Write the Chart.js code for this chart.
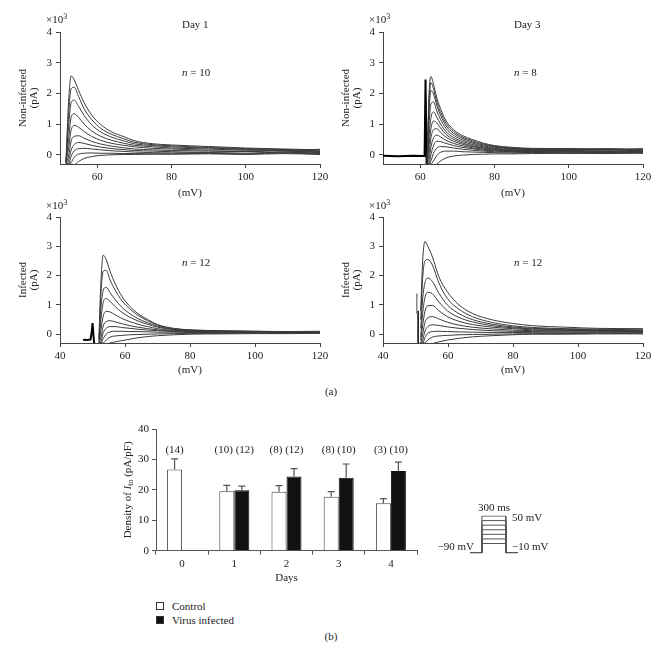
<!DOCTYPE html>
<html>
<head>
<meta charset="utf-8">
<script src="https://cdn.jsdelivr.net/npm/chart.js@4.4.0/dist/chart.umd.min.js"></script>
<style>
  body { margin: 0; background: #fff; }
  #fig { position: relative; width: 664px; height: 647px; font-family: 'Liberation Serif', serif; font-size: 11px; color: #222; }
  #fig canvas { position: absolute; }
  .lbl { position: absolute; white-space: nowrap; line-height: 1; }
  .c { transform: translate(-50%, -50%); }
  .l { transform: translate(0, -50%); }
  .r { transform: translate(-100%, -50%); }
  .sup { font-size: 8px; position: relative; top: -4px; }
  .sq { position: absolute; width: 8px; height: 8px; border: 1px solid #333; box-sizing: border-box; }
</style>
</head>
<body>
<div id="fig">
  <canvas id="c1" width="332" height="200" style="left:0;top:0"></canvas>
  <canvas id="c2" width="332" height="200" style="left:323px;top:0"></canvas>
  <canvas id="c3" width="332" height="197" style="left:0;top:180px"></canvas>
  <canvas id="c4" width="332" height="197" style="left:323px;top:180px"></canvas>
  <canvas id="bars" width="330" height="190" style="left:100px;top:400px"></canvas>
  <canvas id="proto" width="60" height="50" style="left:465px;top:510px"></canvas>

  <div class="lbl l" style="left:46px;top:19px">×10<span class="sup">3</span></div>
  <div class="lbl l" style="left:369px;top:19px">×10<span class="sup">3</span></div>
  <div class="lbl l" style="left:46px;top:205px">×10<span class="sup">3</span></div>
  <div class="lbl l" style="left:369px;top:205px">×10<span class="sup">3</span></div>

  <div class="lbl l" style="left:182px;top:24px">Day 1</div>
  <div class="lbl l" style="left:514px;top:24px">Day 3</div>
  <div class="lbl l" style="left:182px;top:72px"><i>n</i> = 10</div>
  <div class="lbl l" style="left:514px;top:72px"><i>n</i> = 8</div>
  <div class="lbl l" style="left:182px;top:262px"><i>n</i> = 12</div>
  <div class="lbl l" style="left:514px;top:262px"><i>n</i> = 12</div>

  <div class="lbl c" style="left:331px;top:391px">(a)</div>
  <div class="lbl c" style="left:331px;top:636px">(b)</div>

  <div class="lbl c" style="left:494px;top:507px">300 ms</div>
  <div class="lbl l" style="left:512px;top:517px">50 mV</div>
  <div class="lbl r" style="left:474px;top:546px">−90 mV</div>
  <div class="lbl l" style="left:512px;top:546px">−10 mV</div>

  <div class="sq" style="left:156px;top:602px;background:#fff"></div>
  <div class="lbl l" style="left:172px;top:606px">Control</div>
  <div class="sq" style="left:156px;top:616px;background:#111"></div>
  <div class="lbl l" style="left:172px;top:620px">Virus infected</div>
</div>

<script>
/* ---- datos de las corrientes (y en x10^3 pA) ---- */
const yTicks = [0, 1, 2, 3, 4];
const xTicksTop = [60, 80, 100, 120];
const xTicksBottom = [40, 60, 80, 100, 120];

/* Day 1, non-infected */
const d1NonX = [51.6, 52.3, 53, 53.8, 55, 56.5, 58.5, 61, 64, 67, 70, 75, 80, 90, 100, 110, 120];
const d1NonTraces = [
  [-0.25, 1.7, 2.57, 2.45, 2.1, 1.7, 1.3, 0.98, 0.74, 0.6, 0.46, 0.36, 0.32, 0.27, 0.22, 0.19, 0.16],
  [-0.25, 1.3, 2.15, 2.2, 1.9, 1.5, 1.15, 0.86, 0.66, 0.53, 0.41, 0.33, 0.29, 0.24, 0.2, 0.17, 0.13],
  [-0.25, 0.9, 1.7, 1.78, 1.58, 1.28, 0.98, 0.74, 0.57, 0.46, 0.36, 0.3, 0.26, 0.22, 0.18, 0.14, 0.18],
  [-0.25, 0.5, 1.22, 1.34, 1.22, 1.0, 0.78, 0.6, 0.47, 0.38, 0.31, 0.26, 0.22, 0.19, 0.15, 0.17, 0.11],
  [-0.25, 0.2, 0.8, 0.96, 0.9, 0.76, 0.6, 0.47, 0.37, 0.31, 0.26, 0.21, 0.19, 0.15, 0.16, 0.12, 0.09],
  [-0.28, -0.05, 0.45, 0.6, 0.62, 0.54, 0.44, 0.35, 0.28, 0.23, 0.19, 0.16, 0.14, 0.12, 0.1, 0.13, 0.07],
  [-0.3, -0.2, 0.15, 0.33, 0.4, 0.37, 0.31, 0.25, 0.2, 0.17, 0.14, 0.12, 0.1, 0.08, 0.11, 0.06, 0.1],
  [-0.3, -0.3, -0.05, 0.12, 0.2, 0.21, 0.19, 0.16, 0.13, 0.11, 0.09, 0.07, 0.06, 0.07, 0.05, 0.09, 0.04],
  [-0.3, -0.3, -0.25, -0.08, 0.02, 0.05, 0.06, 0.05, 0.05, 0.04, 0.04, 0.03, 0.03, 0.05, 0.03, 0.06, 0.02],
  [-0.3, -0.3, -0.3, -0.32, -0.22, -0.12, -0.06, -0.02, 0.0, 0.01, 0.01, 0.02, 0.02, 0.03, 0.01, 0.04, 0.01]
];

/* Day 3, non-infected */
const d3NonX = [61.9, 62.4, 62.9, 63.6, 64.5, 65.5, 67, 69, 71.5, 74, 77, 80, 85, 90, 100, 110, 120];
const d3NonTraces = [
  [0.0, 2.0, 2.55, 2.3, 1.85, 1.5, 1.1, 0.82, 0.62, 0.5, 0.38, 0.3, 0.24, 0.21, 0.2, 0.19, 0.18],
  [-0.1, 1.7, 2.35, 2.15, 1.72, 1.38, 1.02, 0.76, 0.57, 0.46, 0.35, 0.28, 0.22, 0.2, 0.19, 0.17, 0.2],
  [-0.15, 1.4, 2.1, 1.98, 1.6, 1.28, 0.94, 0.7, 0.53, 0.42, 0.32, 0.26, 0.21, 0.19, 0.17, 0.2, 0.15],
  [-0.2, 1.0, 1.65, 1.72, 1.42, 1.15, 0.85, 0.63, 0.48, 0.38, 0.29, 0.24, 0.19, 0.17, 0.19, 0.15, 0.16],
  [-0.25, 0.6, 1.2, 1.4, 1.22, 1.0, 0.75, 0.56, 0.43, 0.34, 0.26, 0.21, 0.17, 0.16, 0.14, 0.17, 0.12],
  [-0.3, 0.3, 0.85, 1.1, 1.04, 0.87, 0.66, 0.5, 0.38, 0.3, 0.23, 0.19, 0.15, 0.13, 0.15, 0.11, 0.14],
  [-0.3, 0.05, 0.55, 0.82, 0.85, 0.73, 0.57, 0.44, 0.34, 0.27, 0.21, 0.17, 0.13, 0.14, 0.11, 0.13, 0.09],
  [-0.3, -0.15, 0.25, 0.55, 0.64, 0.58, 0.47, 0.37, 0.29, 0.23, 0.18, 0.15, 0.12, 0.1, 0.12, 0.08, 0.11],
  [-0.3, -0.3, 0.0, 0.3, 0.44, 0.43, 0.37, 0.3, 0.24, 0.2, 0.15, 0.13, 0.1, 0.11, 0.08, 0.1, 0.07],
  [-0.3, -0.3, -0.2, 0.05, 0.22, 0.27, 0.26, 0.22, 0.18, 0.15, 0.12, 0.1, 0.09, 0.07, 0.09, 0.06, 0.08],
  [-0.3, -0.3, -0.3, -0.2, -0.02, 0.08, 0.12, 0.12, 0.1, 0.09, 0.08, 0.07, 0.06, 0.08, 0.05, 0.07, 0.05],
  [-0.3, -0.3, -0.35, -0.35, -0.3, -0.2, -0.1, -0.04, -0.01, 0.01, 0.02, 0.03, 0.03, 0.04, 0.05, 0.04, 0.06]
];
const d3NonArtX = [50, 54, 58, 61.2, 61.45, 61.75, 62.0];
const d3NonArtY = [-0.03, -0.05, -0.03, -0.04, 2.45, -0.35, -0.35];

/* Day 1, infected */
const d1InfX = [52.0, 52.6, 53.3, 54.2, 55.4, 57, 59, 61.5, 64, 67, 70, 75, 80, 90, 100, 110, 120];
const d1InfTraces = [
  [-0.1, 1.8, 2.7, 2.55, 2.15, 1.72, 1.3, 0.95, 0.7, 0.5, 0.33, 0.2, 0.15, 0.12, 0.1, 0.09, 0.1],
  [-0.15, 1.4, 2.15, 2.18, 1.85, 1.5, 1.15, 0.86, 0.64, 0.46, 0.31, 0.19, 0.14, 0.11, 0.1, 0.08, 0.07],
  [-0.2, 0.9, 1.5, 1.6, 1.42, 1.18, 0.92, 0.7, 0.53, 0.39, 0.27, 0.17, 0.13, 0.1, 0.09, 0.07, 0.08],
  [-0.25, 0.5, 1.08, 1.22, 1.12, 0.94, 0.75, 0.58, 0.45, 0.34, 0.24, 0.16, 0.12, 0.09, 0.08, 0.09, 0.06],
  [-0.3, 0.15, 0.62, 0.78, 0.76, 0.66, 0.54, 0.43, 0.34, 0.26, 0.19, 0.13, 0.11, 0.08, 0.09, 0.06, 0.07],
  [-0.3, -0.1, 0.28, 0.43, 0.46, 0.42, 0.36, 0.29, 0.24, 0.19, 0.15, 0.11, 0.09, 0.07, 0.06, 0.08, 0.05],
  [-0.3, -0.25, 0.05, 0.2, 0.26, 0.26, 0.23, 0.2, 0.17, 0.14, 0.12, 0.09, 0.08, 0.06, 0.07, 0.05, 0.06],
  [-0.3, -0.3, -0.15, 0.0, 0.08, 0.1, 0.1, 0.09, 0.09, 0.08, 0.07, 0.07, 0.06, 0.05, 0.06, 0.04, 0.05],
  [-0.3, -0.3, -0.3, -0.2, -0.1, -0.06, -0.04, -0.02, -0.01, 0.0, 0.01, 0.02, 0.03, 0.03, 0.04, 0.03, 0.04],
  [-0.3, -0.3, -0.35, -0.35, -0.3, -0.26, -0.22, -0.17, -0.12, -0.08, -0.05, -0.02, 0.0, 0.01, 0.02, 0.02, 0.03]
];
const d1InfArtX = [47.1, 48.5, 49.4, 49.8, 50.0, 50.2, 50.5, 50.9];
const d1InfArtY = [-0.19, -0.2, -0.18, 0.1, 0.38, 0.1, -0.3, -0.35];

/* Day 3, infected */
const d3InfX = [51.6, 52.2, 52.9, 53.8, 55.2, 57.2, 59.8, 63.4, 67.5, 73.6, 79.8, 86, 96, 106, 120];
const d3InfTraces = [
  [0.8, 2.5, 3.17, 3.0, 2.64, 1.96, 1.45, 1.0, 0.71, 0.49, 0.37, 0.29, 0.24, 0.2, 0.19],
  [0.5, 1.9, 2.5, 2.55, 2.36, 1.75, 1.22, 0.85, 0.6, 0.4, 0.29, 0.23, 0.19, 0.17, 0.15],
  [0.2, 1.2, 1.75, 1.92, 1.8, 1.4, 1.0, 0.7, 0.5, 0.34, 0.25, 0.2, 0.17, 0.15, 0.13],
  [-0.1, 0.7, 1.25, 1.43, 1.38, 1.1, 0.8, 0.57, 0.42, 0.29, 0.22, 0.18, 0.15, 0.13, 0.12],
  [-0.2, 0.3, 0.78, 0.97, 0.98, 0.8, 0.6, 0.44, 0.33, 0.24, 0.19, 0.15, 0.13, 0.12, 0.1],
  [-0.3, 0.0, 0.4, 0.56, 0.6, 0.52, 0.41, 0.31, 0.24, 0.18, 0.14, 0.12, 0.11, 0.1, 0.09],
  [-0.3, -0.2, 0.1, 0.26, 0.32, 0.3, 0.25, 0.2, 0.16, 0.12, 0.1, 0.09, 0.08, 0.08, 0.07],
  [-0.3, -0.3, -0.12, 0.03, 0.09, 0.1, 0.09, 0.08, 0.07, 0.06, 0.06, 0.05, 0.05, 0.05, 0.05],
  [-0.3, -0.3, -0.3, -0.2, -0.1, -0.06, -0.04, -0.02, -0.01, 0.0, 0.01, 0.02, 0.02, 0.03, 0.03],
  [-0.3, -0.3, -0.35, -0.35, -0.32, -0.26, -0.2, -0.14, -0.09, -0.05, -0.02, 0.0, 0.0, 0.01, 0.01]
];
const d3InfArt1X = [50.4, 50.4];
const d3InfArt1Y = [1.39, 0.7];
const d3InfArt2X = [50.8, 50.8];
const d3InfArt2Y = [0.8, -0.35];

/* ---- datos de las barras ---- */
const days = ['0', '1', '2', '3', '4'];
const controlDensity = [26.7, 19.5, 19.4, 17.7, 15.6];
const infectedDensity = [null, 19.9, 24.4, 24.0, 26.2];
const controlErrTop = [30.2, 21.5, 21.4, 19.4, 17.1];
const infectedErrTop = [null, 21.2, 27.0, 28.5, 29.1];
const countLabels = ['(14)', '(10) (12)', '(8) (12)', '(8) (10)', '(3) (10)'];
const countLabelLevel = 32.9;

/* ---- protocolo ---- */
const protoLevels = ['50', '40', '30', '20', '10', '0', '-10'];
const protoAxis = ['50', '40', '30', '20', '10', '0', '-10', '', '-90'];
const protoHolding = '-90';
const protoTimes = [-150, 0, 0, 300, 300, 450];

Chart.defaults.font.family = "'Liberation Serif', serif";
Chart.defaults.font.size = 11;
Chart.defaults.color = '#222';
Chart.defaults.animation = false;
Chart.defaults.plugins.legend.display = false;
Chart.defaults.plugins.tooltip.enabled = false;

function pts(xs, ys) {
  return xs.map((x, i) => ({ x: x, y: ys[i] }));
}

/* grafico de corrientes */
function traceChart(id, xs, traces, artifacts, xMin, xTicks, yTitle, padTop, axisH) {
  const datasets = traces.map(ys => ({
    data: pts(xs, ys),
    showLine: true,
    borderColor: '#3a3a3a',
    borderWidth: 1,
    pointRadius: 0,
    cubicInterpolationMode: 'monotone'
  }));
  artifacts.forEach(a => datasets.push({
    data: pts(a.xs, a.ys),
    showLine: true,
    borderColor: a.color,
    borderWidth: a.width,
    pointRadius: 0,
    tension: 0
  }));

  new Chart(document.getElementById(id), {
    type: 'scatter',
    data: { datasets: datasets },
    options: {
      responsive: false,
      layout: { padding: { top: padTop, right: 12, left: 0, bottom: 0 } },
      scales: {
        x: {
          type: 'linear', min: xMin, max: 120,
          afterBuildTicks: s => { s.ticks = xTicks.map(v => ({ value: v })); },
          afterFit: s => { s.height = axisH; },
          grid: { drawOnChartArea: false, tickLength: 4, color: '#444' },
          border: { color: '#444' },
          ticks: { padding: 3, maxRotation: 0 },
          title: { display: true, text: '(mV)', padding: { top: 0, bottom: 0 } }
        },
        y: {
          min: -0.3, max: 4,
          afterBuildTicks: s => { s.ticks = yTicks.map(v => ({ value: v })); },
          afterFit: s => { s.width = 60; },
          grid: { drawOnChartArea: false, tickLength: 4, color: '#444' },
          border: { color: '#444' },
          ticks: { padding: 4 },
          title: { display: true, text: yTitle, padding: { top: 17, bottom: 0 }, font: { size: 11, lineHeight: 1.05 } }
        }
      }
    }
  });
}

traceChart('c1', d1NonX, d1NonTraces, [], 50, xTicksTop, ['Non-infected', '(pA)'], 32, 36);
traceChart('c2', d3NonX, d3NonTraces,
  [{ xs: d3NonArtX, ys: d3NonArtY, color: '#000', width: 2 }],
  50, xTicksTop, ['Non-infected', '(pA)'], 32, 36);
traceChart('c3', d1InfX, d1InfTraces,
  [{ xs: d1InfArtX, ys: d1InfArtY, color: '#000', width: 2 }],
  40, xTicksBottom, ['Infected', '(pA)'], 37, 34);
traceChart('c4', d3InfX, d3InfTraces,
  [{ xs: d3InfArt1X, ys: d3InfArt1Y, color: '#888', width: 1.5 },
   { xs: d3InfArt2X, ys: d3InfArt2Y, color: '#000', width: 1.5 }],
  40, xTicksBottom, ['Infected', '(pA)'], 37, 34);

/* barras de error, numeros y titulo del eje y */
const barExtras = {
  id: 'barExtras',
  afterDatasetsDraw(chart) {
    const ctx = chart.ctx;
    const yScale = chart.scales.y;
    const xScale = chart.scales.x;
    const errs = [controlErrTop, infectedErrTop];
    ctx.save();
    [0, 1].forEach(di => {
      chart.getDatasetMeta(di).data.forEach((bar, i) => {
        if (errs[di][i] == null) return;
        const yTop = yScale.getPixelForValue(errs[di][i]);
        ctx.strokeStyle = '#555';
        ctx.lineWidth = 1.2;
        ctx.beginPath();
        ctx.moveTo(bar.x, bar.y);
        ctx.lineTo(bar.x, yTop);
        ctx.moveTo(bar.x - 3.5, yTop);
        ctx.lineTo(bar.x + 3.5, yTop);
        ctx.stroke();
      });
    });
    /* numero de celulas sobre cada grupo */
    ctx.fillStyle = '#222';
    ctx.font = "11px 'Liberation Serif'";
    ctx.textAlign = 'center';
    ctx.textBaseline = 'middle';
    const yText = yScale.getPixelForValue(countLabelLevel);
    countLabels.forEach((txt, i) => {
      const x = infectedDensity[i] == null
        ? chart.getDatasetMeta(0).data[i].x
        : xScale.getPixelForValue(i);
      ctx.fillText(txt, x, yText);
    });
    ctx.restore();
  },
  afterDraw(chart) {
    const ctx = chart.ctx;
    const a = chart.chartArea;
    const parts = [
      { t: 'Density of ', f: "11px 'Liberation Serif'", dy: 0 },
      { t: 'I', f: "italic 11px 'Liberation Serif'", dy: 0 },
      { t: 'to', f: "8px 'Liberation Serif'", dy: 2.5 },
      { t: ' (pA/pF)', f: "11px 'Liberation Serif'", dy: 0 }
    ];
    ctx.save();
    ctx.translate(a.left - 28, (a.top + a.bottom) / 2);
    ctx.rotate(-Math.PI / 2);
    ctx.fillStyle = '#222';
    ctx.textBaseline = 'middle';
    ctx.textAlign = 'left';
    let total = 0;
    parts.forEach(p => { ctx.font = p.f; p.w = ctx.measureText(p.t).width; total += p.w; });
    let x = -total / 2;
    parts.forEach(p => { ctx.font = p.f; ctx.fillText(p.t, x, p.dy); x += p.w; });
    ctx.restore();
  }
};

new Chart(document.getElementById('bars'), {
  type: 'bar',
  data: {
    labels: days,
    datasets: [
      { label: 'Control', data: controlDensity, backgroundColor: '#fff', borderColor: '#444', borderWidth: 1 },
      { label: 'Virus infected', data: infectedDensity, backgroundColor: '#111', borderColor: '#111', borderWidth: 1 }
    ]
  },
  options: {
    responsive: false,
    layout: { padding: { top: 29, right: 13, left: 0, bottom: 0 } },
    datasets: { bar: { barPercentage: 1, categoryPercentage: 0.575 } },
    scales: {
      x: {
        grid: { offset: true, drawOnChartArea: false, tickLength: 4, color: '#555' },
        border: { color: '#555' },
        ticks: { padding: 3 },
        afterFit: s => { s.height = 39.3; },
        title: { display: true, text: 'Days', padding: { top: 0, bottom: 5.7 } }
      },
      y: {
        min: 0, max: 40,
        ticks: { stepSize: 10, padding: 3 },
        grid: { drawOnChartArea: false, tickLength: 4, color: '#555' },
        border: { color: '#555' },
        afterFit: s => { s.width = 56; }
      }
    }
  },
  plugins: [barExtras]
});

/* diagrama del protocolo */
new Chart(document.getElementById('proto'), {
  type: 'scatter',
  data: {
    datasets: protoLevels.map(lv => ({
      data: protoTimes.map((t, i) => ({ x: t, y: (i === 2 || i === 3) ? lv : protoHolding })),
      showLine: true,
      borderColor: '#555',
      borderWidth: 1,
      pointRadius: 0,
      tension: 0
    }))
  },
  options: {
    responsive: false,
    layout: { padding: { top: 6, right: 7.3, left: 5, bottom: 7.3 } },
    scales: {
      x: { type: 'linear', min: -150, max: 450, display: false },
      y: { type: 'category', labels: protoAxis, display: false }
    }
  }
});
</script>
</body>
</html>
